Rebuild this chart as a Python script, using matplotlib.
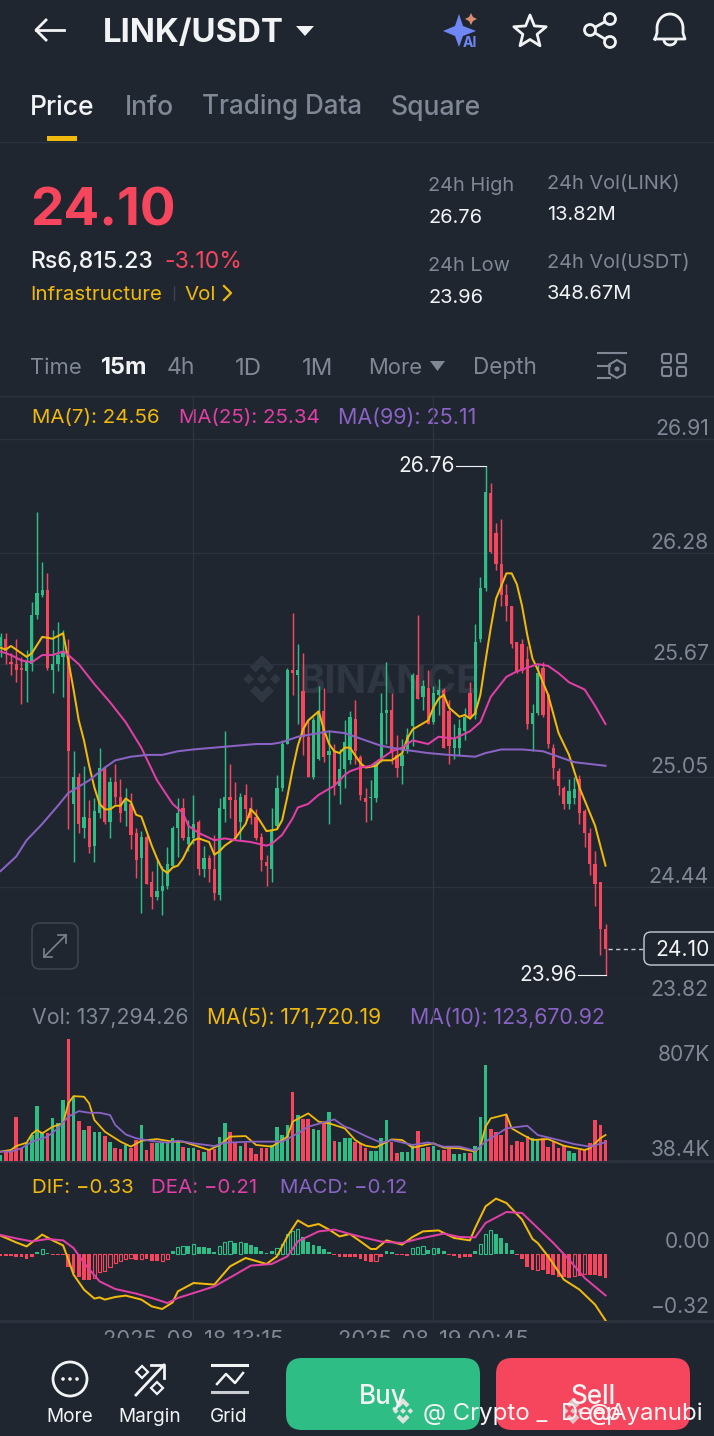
import numpy as np
import matplotlib
matplotlib.use('agg')
import matplotlib.pyplot as plt
from matplotlib.patches import Circle, FancyBboxPatch, Polygon, Rectangle

plt.rcParams['font.family'] = ['Inter', 'DejaVu Sans']

# candle values
candle_dir = ('GRRRRGGGGRGGGRGRGRGGRGRRGRRGRRGGGGGRGGRGRRGGRRGRRRRRGGGGRGRRGGRGRGGGRRRGGGGRRGGGRGRGGRRGGGRGGGRRRRRRRRGGRRRRRGGRRRRRR')
candle_high = [25.84,25.84,25.73,25.81,25.71,25.75,26.01,26.51,26.23,26.17,25.86,25.90,25.86,
    25.81,25.19,25.07,25.11,24.92,24.93,25.21,25.11,25.05,25.12,25.04,24.99,24.96,
    24.77,24.75,24.73,24.53,24.59,24.56,24.66,24.78,24.93,24.93,24.81,24.95,24.81,
    24.67,24.62,24.73,24.93,25.30,25.12,25.02,24.96,25.01,24.94,24.87,24.74,24.62,
    24.88,25.06,25.25,25.65,25.95,25.78,25.73,25.37,25.38,25.55,25.54,25.30,25.23,
    25.20,25.36,25.41,25.47,25.17,24.99,25.03,25.13,25.51,25.68,25.51,25.28,25.26,
    25.32,25.62,25.94,25.58,25.64,25.55,25.59,25.54,25.47,25.34,25.37,25.43,25.57,
    25.89,26.15,26.76,26.67,26.45,26.47,26.11,25.99,25.79,25.81,25.77,25.45,25.67,
    25.68,25.51,25.23,25.10,25.00,25.04,25.05,25.06,24.87,24.77,24.64,24.47,24.24]
candle_top = [25.82,25.81,25.68,25.67,25.65,25.68,25.94,26.06,26.08,26.08,25.67,25.72,25.74,
    25.71,25.05,25.05,24.83,24.82,24.86,25.10,25.09,25.02,25.02,24.94,24.92,24.90,
    24.74,24.72,24.72,24.47,24.42,24.45,24.57,24.77,24.85,24.88,24.72,24.79,24.80,
    24.60,24.60,24.54,24.88,24.94,24.94,24.92,24.94,24.95,24.88,24.83,24.72,24.58,
    24.75,24.99,25.23,25.64,25.64,25.64,25.52,25.27,25.36,25.41,25.41,25.19,25.19,
    25.09,25.24,25.38,25.37,25.16,24.93,24.94,25.13,25.40,25.42,25.42,25.17,25.17,
    25.28,25.61,25.61,25.55,25.54,25.51,25.53,25.53,25.41,25.26,25.32,25.38,25.51,
    25.79,26.09,26.62,26.61,26.39,26.22,26.05,25.99,25.79,25.78,25.70,25.40,25.62,
    25.65,25.50,25.21,25.08,24.99,24.97,24.98,25.04,24.86,24.74,24.57,24.47,24.21]
candle_bottom = [25.77,25.74,25.67,25.64,25.64,25.63,25.67,25.94,26.05,25.65,25.64,25.67,25.71,
    25.19,24.90,24.79,24.77,24.66,24.67,24.85,24.80,24.80,24.94,24.85,24.86,24.73,
    24.59,24.60,24.46,24.39,24.39,24.42,24.45,24.56,24.77,24.71,24.68,24.71,24.54,
    24.54,24.54,24.41,24.40,24.87,24.92,24.71,24.80,24.87,24.82,24.71,24.59,24.56,
    24.54,24.78,24.99,25.23,25.62,25.61,25.27,25.05,25.05,25.15,25.16,25.17,25.00,
    25.00,25.09,25.14,25.19,24.95,24.91,24.93,24.93,25.14,25.40,25.18,25.10,25.11,
    25.20,25.33,25.48,25.49,25.34,25.35,25.50,25.21,25.22,25.21,25.21,25.30,25.38,
    25.39,25.81,26.09,26.29,26.22,26.05,25.99,25.78,25.63,25.63,25.34,25.34,25.40,
    25.39,25.23,25.10,25.00,24.90,24.90,24.93,24.85,24.74,24.57,24.46,24.21,24.10]
candle_low = [25.71,25.67,25.61,25.57,25.45,25.46,25.63,25.92,26.04,25.64,25.51,25.63,25.49,
    24.76,24.58,24.74,24.71,24.63,24.58,24.82,24.79,24.71,24.90,24.80,24.78,24.65,
    24.49,24.30,24.46,24.32,24.37,24.29,24.43,24.56,24.61,24.70,24.64,24.68,24.51,
    24.50,24.47,24.37,24.37,24.80,24.82,24.70,24.70,24.81,24.79,24.70,24.53,24.45,
    24.47,24.76,24.97,25.23,25.50,25.34,25.17,25.05,25.04,25.14,25.13,24.79,24.95,
    24.90,24.99,25.12,25.12,24.92,24.80,24.81,24.91,25.13,25.23,25.12,25.05,25.01,
    25.18,25.22,25.48,25.42,25.34,25.34,25.39,25.21,25.12,25.15,25.17,25.25,25.37,
    25.37,25.79,26.07,26.28,26.19,25.99,25.91,25.76,25.62,25.62,25.31,25.19,25.39,
    25.38,25.21,25.04,24.95,24.87,24.87,24.90,24.79,24.66,24.51,24.34,24.07,23.96]

ma7_idx = [0,1,2,3,5,6,8,10,12,13,14,15,16,17,18,19,20,21,22,23,24,25,26,27,28,29,30,31,32,33,34,35,36,37,38,40,41,42,43,45,47,48,49,51,53,54,55,56,57,58,59,61,62,63,64,65,66,67,69,70,72,73,75,77,78,79,82,83,84,85,86,88,89,90,91,92,93,94,95,97,98,99,100,101,102,103,105,107,109,111,114,116]
ma7 = [25.76,25.75,25.77,25.75,25.71,25.73,25.82,25.81,25.84,25.69,25.53,25.36,25.25,25.11,24.99,24.90,24.87,24.87,24.89,24.89,24.93,24.91,24.84,24.83,24.75,24.67,24.60,24.54,24.52,24.55,24.56,24.60,24.66,24.70,24.71,24.69,24.62,24.64,24.67,24.71,24.79,24.87,24.84,24.75,24.76,24.81,24.94,25.09,25.22,25.31,25.36,25.41,25.31,25.23,25.19,25.18,25.21,25.21,25.125,25.10,25.11,25.14,25.14,25.18,25.26,25.31,25.36,25.43,25.48,25.50,25.43,25.38,25.39,25.37,25.40,25.50,25.69,25.87,26.03,26.17,26.17,26.11,25.99,25.83,25.70,25.64,25.50,25.29,25.17,24.99,24.78,24.56]
ma25_idx = [0,2,4,6,8,10,12,13,15,18,21,24,27,30,33,35,36,38,41,43,45,48,51,52,54,56,57,59,61,64,66,67,69,71,73,75,77,79,82,84,87,90,92,94,97,99,101,103,105,107,109,112,114,116]
ma25 = [25.74,25.72,25.69,25.68,25.72,25.72,25.74,25.72,25.67,25.56,25.46,25.35,25.21,25.03,24.90,24.85,24.78,24.74,24.70,24.71,24.70,24.69,24.67,24.68,24.73,24.82,24.88,24.90,24.95,25.00,25.06,25.08,25.10,25.11,25.15,25.19,25.21,25.25,25.23,25.27,25.26,25.30,25.35,25.49,25.60,25.63,25.65,25.67,25.66,25.62,25.57,25.53,25.44,25.34]
ma99_idx = [0,3,5,8,11,13,17,20,22,25,28,31,34,37,41,45,49,52,54,57,61,63,66,67,70,73,77,82,86,91,93,96,100,104,107,110,113,116]
ma99 = [24.53,24.61,24.70,24.79,24.89,24.96,25.03,25.10,25.14,25.16,25.17,25.17,25.19,25.20,25.21,25.22,25.23,25.23,25.24,25.27,25.29,25.30,25.29,25.28,25.25,25.22,25.20,25.18,25.17,25.16,25.18,25.20,25.20,25.19,25.16,25.13,25.12,25.11]

# volume in thousands
volume = [40,62,62,288,84,117,172,367,183,187,282,249,403,807,425,266,205,233,189,194,165,123,84,79,106,84,139,238,73,121,117,117,128,150,128,90,88,84,73,62,73,79,161,253,189,117,101,121,88,46,84,88,106,222,172,238,458,304,275,275,209,205,249,326,132,128,150,154,123,121,84,66,66,150,271,123,51,57,62,106,198,88,95,99,73,73,79,46,46,51,55,99,293,638,209,194,172,304,106,132,123,167,150,139,150,95,128,84,106,66,55,73,77,117,271,238,137]
vol_ma5_idx = [0,2,3,5,6,7,8,10,12,13,14,16,17,18,20,23,25,27,30,33,35,38,40,42,44,47,49,52,55,56,59,61,63,66,68,69,70,72,75,77,79,82,83,85,88,91,92,93,94,97,98,100,102,105,108,112,113,115,116]
vol_ma5 = [62,73,99,121,178,205,183,227,249,381,429,425,381,271,194,128,95,134,145,128,128,95,73,106,161,165,106,95,161,260,315,260,249,216,139,117,101,90,143,139,88,110,117,88,84,62,95,227,282,308,216,176,139,145,101,73,84,150,172]
vol_ma10_idx = [0,2,4,6,9,11,13,15,17,19,21,22,24,26,29,32,34,37,41,43,48,52,54,57,59,64,66,67,70,73,75,79,82,85,88,91,93,95,97,101,103,107,110,113,116]
vol_ma10 = [62,62,84,128,161,216,293,330,319,319,304,238,176,150,132,121,134,117,99,121,128,128,128,183,227,275,227,216,165,121,139,106,123,95,95,68,128,172,216,233,172,139,112,95,124]

macd_hist = [-.012,-.012,-.012,-.015,-.017,-.025,-.015,.008,.025,.005,-.003,-.005,-.005,
    -.067,-.095,-.113,-.128,-.128,-.12,-.092,-.087,-.063,-.047,-.033,-.025,-.022,
    -.03,-.023,-.027,-.033,-.037,-.033,-.023,.013,.033,.042,.042,.05,.037,.033,.028,
    .012,.042,.058,.067,.053,.062,.055,.045,.037,.017,.005,.013,.03,.05,.1,.117,.125,
    .083,.058,.045,.042,.025,.012,-.003,-.017,-.017,-.013,-.013,-.025,-.037,-.042,-.033,
    -.013,.013,.008,-.003,-.005,-.01,.03,.033,.038,.02,.03,.03,.017,-.003,-.008,-.02,
    -.017,-.015,.017,.05,.1,.12,.1,.08,.053,.02,-.005,-.025,-.067,-.08,-.078,-.08,
    -.1,-.105,-.113,-.117,-.12,-.108,-.108,-.1,-.103,-.103,-.108,-.12]
dif_idx = [0,3,5,8,10,12,13,14,16,18,19,20,22,24,27,29,31,33,34,37,41,44,47,51,53,55,57,59,61,63,65,67,69,71,72,74,77,79,81,84,87,90,91,93,95,97,100,102,103,105,108,111,114,116]
dif = [.092,.058,.038,.097,.068,.043,-.028,-.103,-.178,-.223,-.217,-.228,-.215,-.208,-.228,-.262,-.275,-.242,-.187,-.145,-.153,-.062,-.02,-.05,-.012,.088,.168,.138,.15,.122,.088,.10,.063,.025,.025,.068,.047,.085,.113,.118,.08,.068,.13,.238,.277,.255,.172,.075,.055,-.012,-.128,-.178,-.253,-.332]
dea_idx = [0,3,6,9,12,14,16,19,22,26,29,32,34,38,41,45,48,52,55,57,61,64,67,70,73,77,80,85,88,91,93,97,100,103,106,109,112,116]
dea = [.095,.078,.063,.075,.068,.03,-.045,-.137,-.175,-.198,-.22,-.245,-.22,-.187,-.162,-.103,-.058,-.05,-.012,.063,.113,.122,.10,.08,.062,.055,.075,.102,.085,.083,.155,.21,.205,.13,.055,-.028,-.12,-.207]

price_ticks = [26.91,26.28,25.67,25.05,24.44,23.82]
price_tick_labels = ['26.91','26.28','25.67','25.05','24.44','23.82']
date_ticks = [37,83]
date_labels = ['2025-08-18 13:15','2025-08-19 00:45']

BG = '#1f2630'
GRID = '#2c333e'
GRAY = '#7f8894'
WHITE = '#f2f3f5'
GREEN = '#2ebd85'
RED = '#f6465d'
YELLOW = '#f0b90b'
PINK = '#e13fa5'
PURPLE = '#8a63c4'

W, H = 714, 1436
fig = plt.figure(figsize=(W/100, H/100), dpi=100, facecolor=BG)


def pixel_axes(zorder):
    ax = fig.add_axes([0, 0, 1, 1], zorder=zorder)
    ax.set_xlim(0, W)
    ax.set_ylim(H, 0)
    ax.axis('off')
    return ax


def chart_axes(top, bottom, ylim):
    ax = fig.add_axes([0, 1-bottom/H, 1, (bottom-top)/H], zorder=2)
    ax.patch.set_alpha(0)
    ax.set_xlim(-0.1, 136.8)
    ax.set_ylim(*ylim)
    for s in ax.spines.values():
        s.set_visible(False)
    ax.tick_params(length=0, labelbottom=False, labelleft=False)
    ax.set_xticks(date_ticks)
    ax.grid(True, color=GRID, lw=1.0)
    ax.set_axisbelow(True)
    return ax


def txt(ax, x, y, s, size, color=WHITE, weight='normal', ha='left', **kw):
    # y is the middle of the capitals, size is in pixels
    return ax.text(x, y+0.36*size, s, fontsize=size*0.72, color=color, fontweight=weight,
                   ha=ha, va='baseline', **kw)


def logo(ax, cx, cy, s, color, **kw):
    top = [(0,-1),(.5,-.5),(.27,-.27),(0,-.54),(-.27,-.27),(-.5,-.5)]
    for pts in (top, [(x,-y) for x,y in top],
                [(0,-.22),(.22,0),(0,.22),(-.22,0)],
                [(-.78,0),(-.56,-.22),(-.34,0),(-.56,.22)],
                [(.78,0),(.56,-.22),(.34,0),(.56,.22)]):
        ax.add_patch(Polygon([(cx+x*s, cy+y*s) for x,y in pts], fc=color, ec='none', **kw))


ui = pixel_axes(1)
top_ui = pixel_axes(3)

# header
ui.plot([36,64],[30,30],color=WHITE,lw=2)
ui.plot([46,36,46],[20,30,40],color=WHITE,lw=2)
txt(ui,103,30,'LINK/USDT',33,weight='bold')
ui.add_patch(Polygon([(296,26),(314,26),(305,36)],fc=WHITE,ec='none'))
# AI sparkle
sp = [(459,14),(463,26),(476,31),(463,36),(459,47),(455,36),(443,31),(455,26)]
ui.add_patch(Polygon(sp,fc='#6f86f5',ec='none'))
ui.add_patch(Polygon([(471,13),(473,17),(477,19),(473,21),(471,25),(469,21),(465,19),(469,17)],fc='#d98a70',ec='none'))
txt(ui,463,42,'AI',14,color='#6f86f5',weight='bold')
# star
ang = np.deg2rad(np.arange(-90,270,36))
rad = np.array([17,7.5]*5)
ui.add_patch(Polygon(np.c_[530+rad*np.cos(ang),32+rad*np.sin(ang)],fc='none',ec=WHITE,lw=2,joinstyle='round'))
# share
ui.plot([610,590,610],[19,30,42],color=WHITE,lw=2)
for cx,cy in [(610,19),(590,30),(610,42)]:
    ui.add_patch(Circle((cx,cy),5.5,fc=BG,ec=WHITE,lw=2,zorder=3))
# bell
tb = np.linspace(np.pi,0,30)
bx = list(670+13*np.cos(tb))
by = list(28-14*np.sin(tb))
ui.plot([655,657]+bx+[683,685,655],[39,33]+by+[33,39,39],color=WHITE,lw=2)
tb = np.linspace(0,np.pi,20)
ui.plot(670+6*np.cos(tb),40+5*np.sin(tb),color=WHITE,lw=2)

# tabs
txt(ui,30,105,'Price',26.5,weight='medium')
txt(ui,125,105,'Info',26.5,color=GRAY,weight='medium')
txt(ui,202,105,'Trading Data',26,color=GRAY,weight='medium')
txt(ui,391,105,'Square',26.5,color=GRAY,weight='medium')
ui.add_patch(Rectangle((47,136),30,5,fc=YELLOW,ec='none'))
ui.plot([0,W],[142,142],color=GRID,lw=1)

# ticker block
txt(ui,30,206,'24.10',53,color=RED,weight='bold')
txt(ui,30,260,'Rs6,815.23',23,weight='medium')
txt(ui,164,260,'-3.10%',23,color=RED)
txt(ui,30,293,'Infrastructure',20.5,color=YELLOW)
ui.plot([174,174],[286,300],color='#3a424e',lw=1)
txt(ui,184,293,'Vol',20.5,color=YELLOW)
ui.plot([224,231,224],[286,293,300],color=YELLOW,lw=1.6)
for x,y,s,c in [(428,184,'24h High',GRAY),(428,216,'26.76',WHITE),(428,264,'24h Low',GRAY),(428,296,'23.96',WHITE),
                (547,182,'24h Vol(LINK)',GRAY),(547,213,'13.82M',WHITE),(547,261,'24h Vol(USDT)',GRAY),(547,292,'348.67M',WHITE)]:
    txt(ui,x,y,s,20,color=c)

# interval row
for x,s,c,w,fs in [(30,'Time',GRAY,'normal',22),(101,'15m',WHITE,'bold',23.5),(167,'4h',GRAY,'normal',23),(235,'1D',GRAY,'normal',24),
                   (302,'1M',GRAY,'normal',24),(368,'More',GRAY,'normal',22),(473,'Depth',GRAY,'normal',22.5)]:
    txt(ui,x,366,s,fs,color=c,weight=w)
ui.add_patch(Polygon([(430,361),(445,361),(437.5,371)],fc=GRAY,ec='none'))
ui.plot([598,626],[353,353],color=GRAY,lw=1.5)
ui.plot([598,610],[366,366],color=GRAY,lw=1.5)
ui.plot([598,610],[378,378],color=GRAY,lw=1.5)
ang = np.deg2rad(np.arange(30,390,60))
ui.add_patch(Polygon(np.c_[617+9*np.cos(ang),369+9*np.sin(ang)],fc='none',ec=GRAY,lw=1.5))
ui.add_patch(Circle((617,369),2.5,fc=GRAY,ec='none'))
for x,y in [(662,354),(677,354),(662,367),(677,367)]:
    ui.add_patch(FancyBboxPatch((x,y),9,9,boxstyle='round,pad=0,rounding_size=2',fc='none',ec=GRAY,lw=1.5))
ui.plot([0,W],[396,396],color=GRID,lw=1)

# legends
for x,s,c,fs in [(32,'MA(7): 24.56',YELLOW,20.5),(179,'MA(25): 25.34',PINK,20.5),(338,'MA(99): 25.11',PURPLE,21.5)]:
    txt(ui,x,416,s,fs,color=c)
for x,s,c,fs in [(32,'Vol: 137,294.26',GRAY,21.3),(207,'MA(5): 171,720.19',YELLOW,21),(410,'MA(10): 123,670.92',PURPLE,21.3)]:
    txt(ui,x,1016,s,fs,color=c)
for x,s,c,fs in [(32,'DIF: \u22120.33',YELLOW,20.5),(151,'DEA: \u22120.21',PINK,20.5),(280,'MACD: \u22120.12',PURPLE,20.5)]:
    txt(ui,x,1186,s,fs,color=c)

# chart watermark
logo(ui,262,679,24,'#2f3743')
txt(ui,298,679,'BINANCE',40,color='#2f3743',weight='bold')

# price panel
idx = np.arange(len(candle_high))
up = np.array([c == 'G' for c in candle_dir])
colors = [GREEN if u else RED for u in up]
px_per_unit = 181.6
ax = chart_axes(396,1000,(26.91-(1000-439)/px_per_unit,26.91+(439-396)/px_per_unit))
ax.set_yticks(price_ticks)
ax.vlines(idx,candle_low,candle_high,colors=colors,lw=1.05,zorder=3)
ax.bar(idx,np.array(candle_top)-np.array(candle_bottom),width=0.62,bottom=candle_bottom,color=colors,zorder=3)
ax.plot(ma7_idx,ma7,color=YELLOW,lw=1.45,zorder=4)
ax.plot(ma25_idx,ma25,color=PINK,lw=1.45,zorder=4)
ax.plot(ma99_idx,ma99,color=PURPLE,lw=1.45,zorder=4)
for v,s in zip(price_ticks,price_tick_labels):
    ax.annotate(s,xy=(1,v),xycoords=('axes fraction','data'),xytext=(-5,10),textcoords='offset pixels',
                ha='right',va='center',fontsize=15.3,color=GRAY,annotation_clip=False)
# high / low markers
ax.plot([87.3,93],[26.76,26.76],color=WHITE,lw=0.8,zorder=4)
ax.annotate('26.76',xy=(87.3,26.76),xytext=(-1,0),textcoords='offset pixels',ha='right',va='center',fontsize=15,color=WHITE)
ax.plot([110.7,116],[23.96,23.96],color=WHITE,lw=0.8,zorder=4)
ax.annotate('23.96',xy=(110.7,23.96),xytext=(-1,0),textcoords='offset pixels',ha='right',va='center',fontsize=15,color=WHITE)
ax.plot([116.4,123.3],[24.10,24.10],color='#c9ccd1',lw=1,ls=(0,(3,2.5)),zorder=4)
top_ui.add_patch(FancyBboxPatch((644,932),80,33,boxstyle='round,pad=0,rounding_size=7',fc=BG,ec='#c9ccd1',lw=1))
txt(top_ui,710,948.5,'24.10',21,ha='right')

# volume panel
vol_scale = 807/(1161-1039)
vol = chart_axes(1000,1161,(0,(1161-1000)*vol_scale))
vol.set_yticks([])
vol.axhline(0,color=GRID,lw=2,clip_on=False)
vol.bar(idx,volume,width=0.68,color=colors,zorder=3)
vol.plot(vol_ma5_idx,vol_ma5,color=YELLOW,lw=1.3,zorder=4)
vol.plot(vol_ma10_idx,vol_ma10,color=PURPLE,lw=1.3,zorder=4)
txt(ui,710,1053,'807K',21,color=GRAY,ha='right')
txt(ui,710,1148,'38.4K',21,color=GRAY,ha='right')

# macd panel
macd_scale = 200.0
macd = chart_axes(1161,1321,(-(1321-1254)/macd_scale,(1254-1161)/macd_scale))
macd.set_yticks([])
macd.axhline(-(1321-1254)/macd_scale,color=GRID,lw=2,clip_on=False)
hist = np.array(macd_hist)
hollow = np.r_[False,hist[1:] > hist[:-1]]
hist_colors = [GREEN if v > 0 else RED for v in hist]
for i,v in enumerate(hist):
    if hollow[i] and abs(v) > 0.02:
        macd.bar(i,v,width=0.62,facecolor='none',edgecolor=hist_colors[i],lw=0.8,zorder=3)
    else:
        macd.bar(i,v,width=0.72,color=hist_colors[i],zorder=3)
macd.plot(dif_idx,dif,color=YELLOW,lw=1.45,zorder=4)
macd.plot(dea_idx,dea,color=PINK,lw=1.45,zorder=4)
txt(ui,710,1240,'0.00',21,color=GRAY,ha='right')
txt(ui,710,1305,'\u22120.32',21,color=GRAY,ha='right')
for x,s in zip(date_ticks,date_labels):
    macd.annotate(s,xy=(x,-(1321-1254)/macd_scale),xytext=(0,-19),textcoords='offset pixels',ha='center',va='center',
                  fontsize=15.8,color=GRAY,annotation_clip=False)

# expand button
top_ui.add_patch(FancyBboxPatch((32,923),46,46,boxstyle='round,pad=0,rounding_size=8',fc=BG,ec='#3c4450',lw=1.2))
top_ui.plot([44,66],[957,935],color='#7b838e',lw=1.2)
top_ui.plot([44,44,52],[949,957,957],color='#7b838e',lw=1.2)
top_ui.plot([58,66,66],[935,935,943],color='#7b838e',lw=1.2)

# bottom bar covers the lower half of the date labels
top_ui.add_patch(Rectangle((0,1338),W,H-1338,fc=BG,ec='none'))
top_ui.add_patch(Circle((70,1379),17,fc='none',ec=WHITE,lw=2))
for x in (63,70,77):
    top_ui.add_patch(Circle((x,1379),1.8,fc=WHITE,ec='none'))
txt(top_ui,70,1415,'More',19,ha='center')
top_ui.plot([136,164],[1395,1365],color=WHITE,lw=2)
top_ui.plot([151,164,164],[1365,1365,1378],color=WHITE,lw=2)
for cx,cy in [(142,1372),(157,1388)]:
    top_ui.add_patch(Polygon([(cx,cy-6),(cx+6,cy),(cx,cy+6),(cx-6,cy)],fc='none',ec=WHITE,lw=1.6))
txt(top_ui,150,1415,'Margin',19,ha='center')
top_ui.plot([212,247],[1365,1365],color=WHITE,lw=2.2)
top_ui.plot([212,247],[1392,1392],color='#c9ccd1',lw=2.2)
top_ui.plot([217,226,235,243],[1384,1374,1383,1373],color=WHITE,lw=1.8)
txt(top_ui,229,1415,'Grid',19,ha='center')
top_ui.add_patch(FancyBboxPatch((286,1358),194,72,boxstyle='round,pad=0,rounding_size=16',fc=GREEN,ec='none'))
top_ui.add_patch(FancyBboxPatch((496,1358),194,72,boxstyle='round,pad=0,rounding_size=16',fc=RED,ec='none'))
txt(top_ui,383,1395,'Buy',26,weight='medium',ha='center')
txt(top_ui,593,1395,'Sell',26,weight='medium',ha='center')

# screenshot watermark
logo(top_ui,403,1411,13,'#dfe3e0')
txt(top_ui,423,1411,'@ Crypto _  Deep',24,color='#f5f5f5')
logo(top_ui,573,1411,13,'#dfe3e0',alpha=0.8)
txt(top_ui,588,1411,'@Ayanubi',24,color='#f5f5f5')

fig.savefig('out.png',dpi=100,facecolor=BG)
